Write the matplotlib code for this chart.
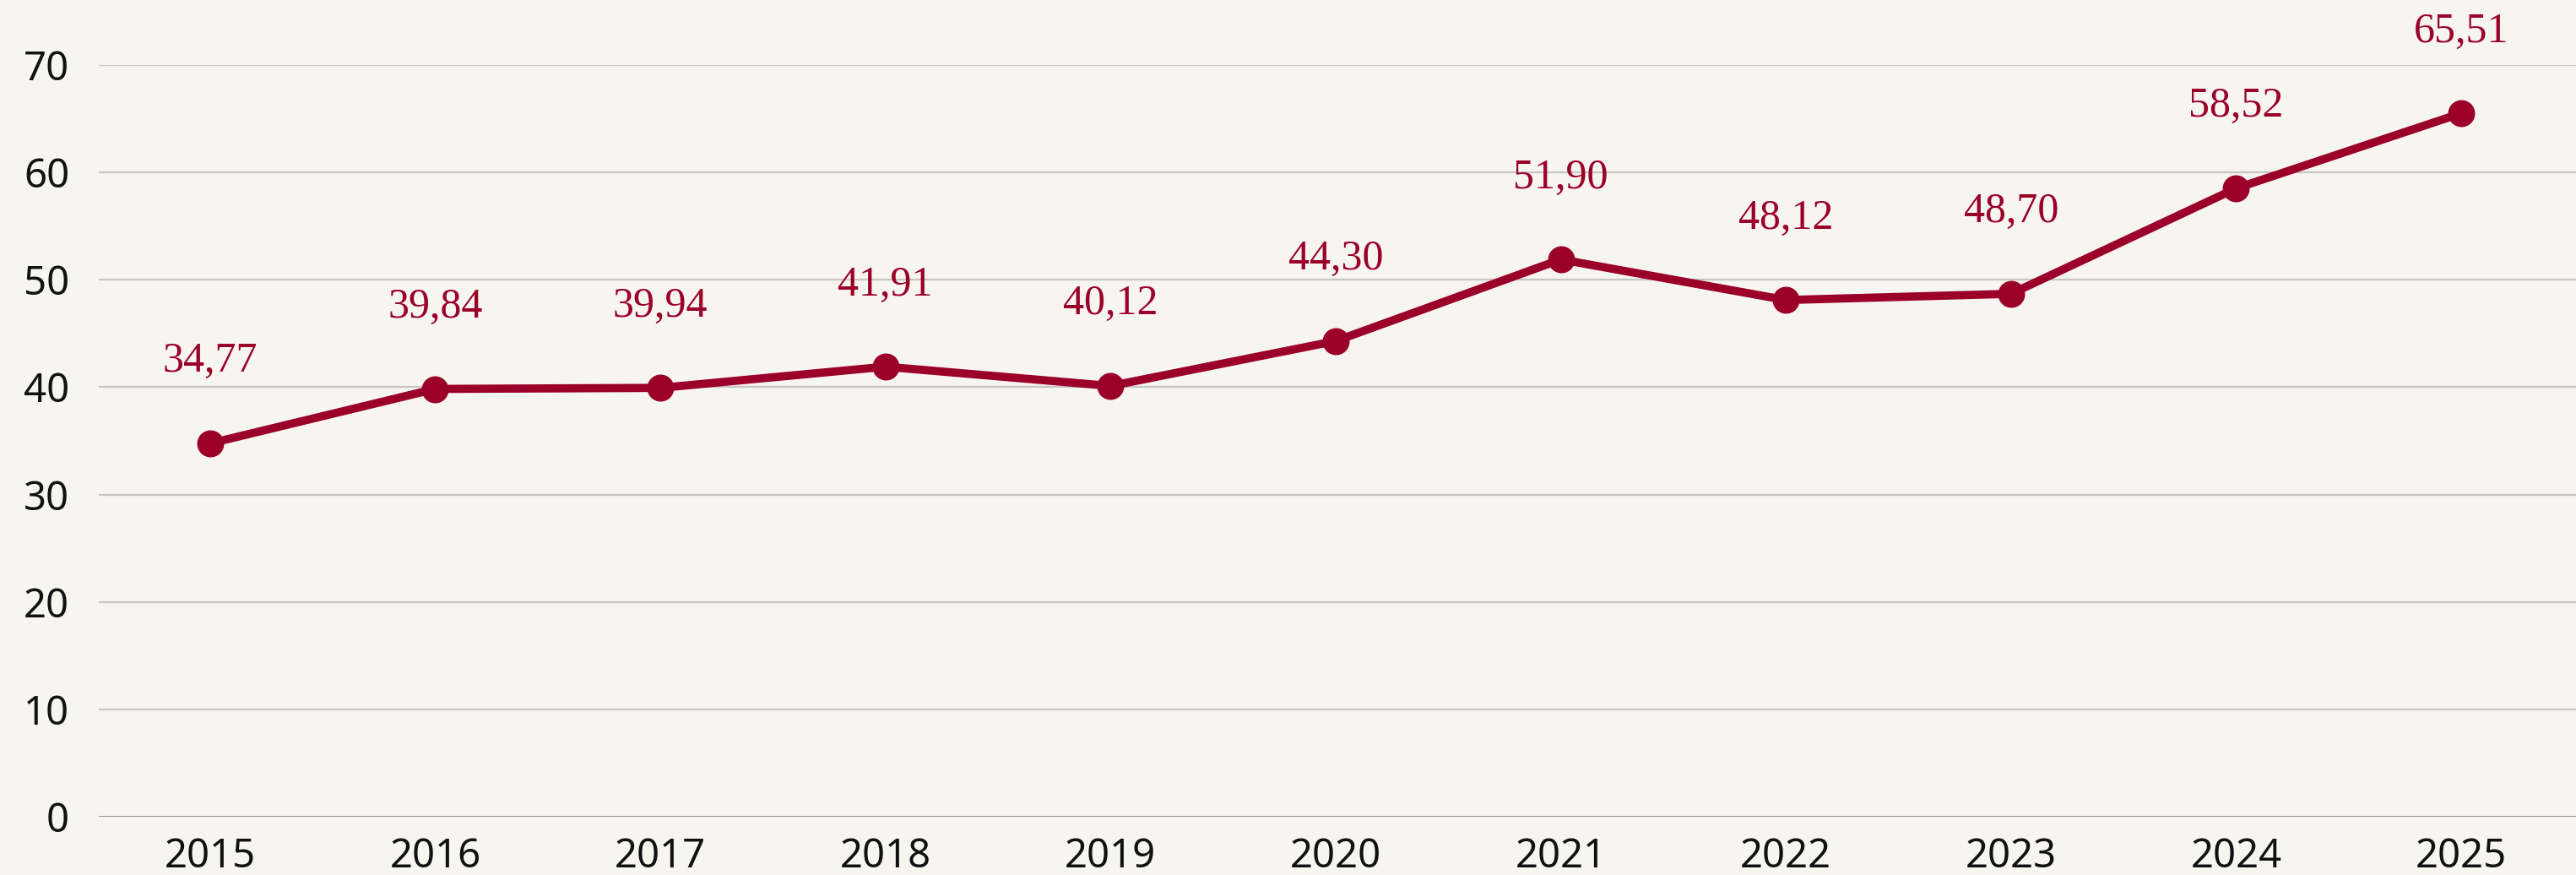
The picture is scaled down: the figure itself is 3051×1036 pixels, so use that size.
import matplotlib
matplotlib.use('Agg')
from matplotlib import pyplot as plt

years = [2015, 2016, 2017, 2018, 2019, 2020, 2021, 2022, 2023, 2024, 2025]
values = [34.77, 39.84, 39.94, 41.91, 40.12, 44.30, 51.90, 48.12, 48.70, 58.52, 65.51]
labels = ['34,77', '39,84', '39,94', '41,91', '40,12', '44,30',
          '51,90', '48,12', '48,70', '58,52', '65,51']
yticks = [0, 10, 20, 30, 40, 50, 60, 70]

bg = '#f7f5f0'
red = '#9b0029'

fig = plt.figure(figsize=(30.51, 10.36), dpi=100, facecolor=bg)
ax = fig.add_axes([0.0383, 0.0666, 0.9617, 0.859])
ax.set_facecolor(bg)

for t in yticks[1:]:
    ax.axhline(t, color='#c8c6c2', lw=1.6, zorder=1)
ax.axhline(0, color='#8a8886', lw=2, zorder=1)

ax.plot(years, values, color=red, lw=7, marker='o', ms=22, zorder=3,
        solid_capstyle='round')

# value labels above each point
for x, v, s in zip(years, values, labels):
    ax.annotate(s, (x, v), xytext=(0, 61), textcoords='offset points',
                ha='center', va='baseline', color=red, fontsize=36,
                family='Liberation Serif', clip_on=False)

ax.set_xlim(2014.505, 2025.51)
ax.set_ylim(0, 70)
ax.set_yticks(yticks)
ax.set_xticks(years)
ax.set_xticklabels([str(y) for y in years])
for sp in ax.spines.values():
    sp.set_visible(False)
ax.tick_params(axis='both', length=0, labelsize=34, labelcolor='#111111')
ax.tick_params(axis='y', pad=25)
ax.tick_params(axis='x', pad=17)
for lab in ax.get_xticklabels() + ax.get_yticklabels():
    lab.set_family('Noto Sans')

fig.savefig('out.png', dpi=100, facecolor=bg)
